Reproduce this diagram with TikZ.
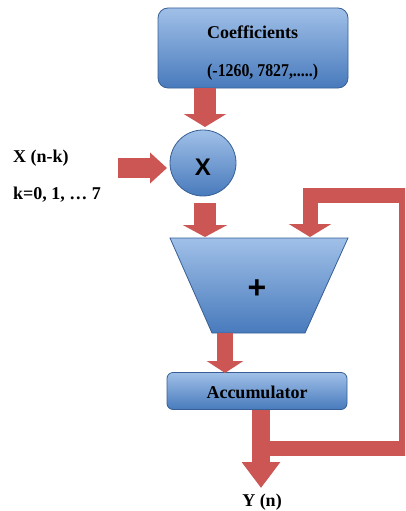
\documentclass[tikz,border=0pt]{standalone}
\usepackage{fontspec}
\usepackage{graphicx}
\setmainfont{Liberation Serif}
\newfontfamily\sansf{Liberation Sans}
\usetikzlibrary{arrows.meta}
\definecolor{arrred}{RGB}{203,86,84}
\definecolor{blueedge}{RGB}{55,95,150}
\definecolor{bluetop}{RGB}{160,192,232}
\definecolor{bluebot}{RGB}{72,122,188}
\tikzset{
  bluebox/.style={draw=blueedge, line width=0.8pt, top color=bluetop, bottom color=bluebot, inner sep=0pt},
  barrow/.style={draw=arrred, line width=#1, line cap=butt},
  lbl/.style={font=\fontsize{18}{21}\selectfont\bfseries, inner sep=0pt},
}
\begin{document}
\begin{tikzpicture}[x=1pt,y=-1pt]
\useasboundingbox (0,0) rectangle (405,511);
\clip (0,0) rectangle (405,511);
% coefficient box
\node[bluebox, rounded corners=10pt, minimum width=190pt, minimum height=80pt] (coef) at (253,48) {};
\node[lbl, anchor=west] (coeft) at (207,32) {Coefficients};
\node[lbl, anchor=west] (coefv) at (207,72) {\scalebox{0.88}[1]{(-1260, 7827,.....)}};
% multiplier
\node[bluebox, circle, minimum size=66pt] (mul) at (203,163) {};
\node[font=\sansf\bfseries\fontsize{24}{24}\selectfont, inner sep=0pt] (mulx) at (203,167) {X};
% input labels
\node[lbl, anchor=west] (xin) at (13,158) {X (n-k)};
\node[lbl, anchor=west] (kin) at (13,195) {k=0, 1, … 7};
\coordinate (xstart) at (118,168);
\coordinate (xend) at (167,168);
% adder
\path[bluebox] (170,238) coordinate (addtl) -- (348,238) coordinate (addtr) -- (305,333) coordinate (addbr) -- (212,333) coordinate (addbl) -- cycle;
\node[font=\sansf\bfseries\fontsize{32}{32}\selectfont, inner sep=0pt] (add) at (257,289) {+};
% accumulator
\node[bluebox, rounded corners=6pt, minimum width=180pt, minimum height=37pt] (acc) at (257,391) {};
\node[lbl] (acct) at (257,392) {Accumulator};
% output label
\node[lbl] (yout) at (262,502) {Y (n)};
% coordinates for arrows
\coordinate (c1s) at (205,90);
\coordinate (c1e) at (205,127);
\coordinate (c2s) at (205,203);
\coordinate (c2e) at (205,237);
\coordinate (c3s) at (225,333);
\coordinate (c3e) at (225,373);
\coordinate (fbs) at (261,448);
\coordinate (fbr) at (406,448);
\coordinate (fbt) at (406,195.5);
\coordinate (fbl) at (310,195.5);
\coordinate (fbe) at (310,237);
\coordinate (os) at (261,410);
\coordinate (oe) at (261,488);
% arrows
\draw[barrow=22pt, -{Triangle[width=42pt,length=13pt]}] (coef.south -| c1s) -- (c1e);
\draw[barrow=20pt, -{Triangle[width=30pt,length=17pt]}] (xstart) -- (xend);
\draw[barrow=22pt, -{Triangle[width=44pt,length=12pt]}] (c2s) -- (c2e);
\draw[barrow=15pt, line join=miter, -{Triangle[width=42pt,length=13pt]}] (fbs) -- (fbr) -- (fbt) -- (fbl) -- (fbe);
\draw[barrow=16pt, -{Triangle[width=36pt,length=12pt]}] (c3s) -- (c3e);
\draw[barrow=18pt, -{Triangle[width=37pt,length=26pt]}] (acc.south -| os) -- (oe);
\end{tikzpicture}
\end{document}
